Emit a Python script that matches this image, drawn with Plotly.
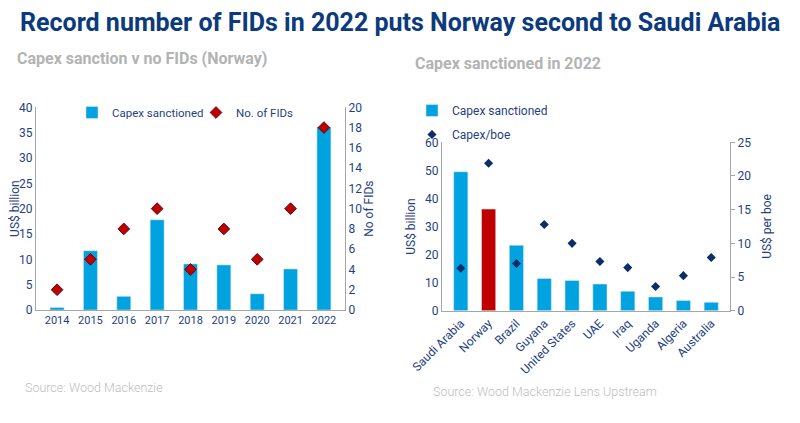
import plotly.graph_objects as go

# Left chart data
years = ["2014", "2015", "2016", "2017", "2018", "2019", "2020", "2021", "2022"]
capex_norway = [0.5, 11.7, 2.7, 17.8, 9.1, 8.9, 3.2, 8.1, 36.1]
fids_norway = [2, 5, 8, 10, 4, 8, 5, 10, 18]

# Right chart data
countries = ["Saudi Arabia", "Norway", "Brazil", "Guyana", "United States",
             "UAE", "Iraq", "Uganda", "Algeria", "Australia"]
capex_2022 = [49.5, 36.2, 23.3, 11.5, 10.8, 9.5, 6.9, 4.9, 3.6, 3.0]
capex_per_boe = [6.3, 21.9, 7.0, 12.8, 10.0, 7.3, 6.4, 3.6, 5.2, 7.9]

BLUE = "#00A3E0"
RED = "#C00000"
NAVY = "#0B2D6B"
TXT = "#1F3F7F"
GRID = "#A6A6A6"
FONT = "Roboto"
W, H = 800, 423
OFF = 8  # page body offset of the figure in the browser


def fx(x):
    return (x - OFF) / W


def fy(y):
    return 1 - (y - OFF) / H


bar_colors = [RED if c == "Norway" else BLUE for c in countries]

fig = go.Figure()

fig.add_trace(go.Bar(x=years, y=capex_norway, name="Capex sanctioned",
                     marker=dict(color=BLUE), width=0.42,
                     xaxis="x", yaxis="y", legend="legend"))
fig.add_trace(go.Scatter(x=years, y=fids_norway, name="No. of FIDs", mode="markers",
                         marker=dict(symbol="diamond", size=9, color=RED,
                                     line=dict(color="#5A0A14", width=1)),
                         xaxis="x", yaxis="y2", legend="legend"))

fig.add_trace(go.Bar(x=countries, y=capex_2022, name="Capex sanctioned",
                     marker=dict(color=bar_colors), width=0.51,
                     xaxis="x3", yaxis="y3", legend="legend2", legendgroup="a"))
fig.add_trace(go.Scatter(x=countries, y=capex_per_boe, name="Capex/boe", mode="markers",
                         marker=dict(symbol="diamond", size=7, color=NAVY),
                         xaxis="x3", yaxis="y4", legend="legend2", legendgroup="b"))

xtick = dict(family=FONT, size=11, color=TXT)
ytick = dict(family=FONT, size=12, color=TXT)
titlefont = dict(family=FONT, size=12, color=TXT)

common = dict(showline=True, linecolor=GRID, showgrid=False, zeroline=False,
              automargin=False)

fig.update_layout(
    width=W, height=H,
    margin=dict(l=0, r=0, t=0, b=0, autoexpand=False),
    paper_bgcolor="white", plot_bgcolor="white",
    font=dict(family=FONT, color=TXT),
    showlegend=True,
    xaxis=dict(domain=[fx(36), fx(345)], anchor="y", ticks="", tickfont=xtick, **common),
    yaxis=dict(domain=[fy(310), fy(107.3)], anchor="x", range=[0, 40], dtick=5, ticks="",
               tickfont=ytick,
               title=dict(text="US$ billion", font=titlefont, standoff=11), **common),
    yaxis2=dict(overlaying="y", side="right", anchor="x", range=[0, 20], dtick=2, ticks="",
                tickfont=ytick,
                title=dict(text="No of FIDs", font=titlefont, standoff=2), **common),
    xaxis3=dict(domain=[fx(442), fx(730)], anchor="y3", ticks="", tickangle=-45,
                tickfont=dict(family=FONT, size=12, color=TXT), **common),
    yaxis3=dict(domain=[fy(310.7), fy(142.3)], anchor="x3", range=[0, 60], dtick=10,
                ticks="", tickfont=ytick,
                title=dict(text="US$ billion", font=titlefont, standoff=6), **common),
    yaxis4=dict(overlaying="y3", side="right", anchor="x3", range=[0, 25], dtick=5,
                ticks="outside", ticklen=4, tickcolor=GRID, tickfont=ytick,
                title=dict(text="US$ per boe", font=titlefont, standoff=12), **common),
    legend=dict(orientation="h", x=fx(72), y=fy(98), xanchor="left", yanchor="top",
                font=dict(family=FONT, size=11.5, color=TXT), bgcolor="rgba(0,0,0,0)",
                itemwidth=30, entrywidth=79, entrywidthmode="pixels"),
    legend2=dict(orientation="v", x=fx(412), y=fy(96), xanchor="left", yanchor="top",
                 font=dict(family=FONT, size=12, color=TXT), bgcolor="rgba(0,0,0,0)",
                 itemwidth=30, traceorder="grouped", tracegroupgap=5),
)

anns = [
    dict(text="<b>Record number of FIDs in 2022 puts Norway second to Saudi Arabia</b>",
         x=fx(400), y=fy(22), xanchor="center", yanchor="middle",
         font=dict(family=FONT, size=25, color="#0B3A7E")),
    dict(text="<b>Capex sanction v no FIDs (Norway)</b>", x=fx(15), y=fy(59),
         xanchor="left", yanchor="middle",
         font=dict(family=FONT, size=16, color="#B3B3B3")),
    dict(text="<b>Capex sanctioned in 2022</b>", x=fx(413), y=fy(64),
         xanchor="left", yanchor="middle",
         font=dict(family=FONT, size=16, color="#B3B3B3")),
    dict(text="Source: Wood Mackenzie", x=fx(23), y=fy(387),
         xanchor="left", yanchor="middle",
         font=dict(family="Roboto Light, Roboto", size=12.5, color="#BDBDBD")),
    dict(text="Source: Wood Mackenzie Lens Upstream", x=fx(431), y=fy(391),
         xanchor="left", yanchor="middle",
         font=dict(family="Roboto Light, Roboto", size=12.5, color="#BDBDBD")),
]
for a in anns:
    a.update(xref="paper", yref="paper", showarrow=False)
fig.update_layout(annotations=anns)

fig.write_html("out.html")
